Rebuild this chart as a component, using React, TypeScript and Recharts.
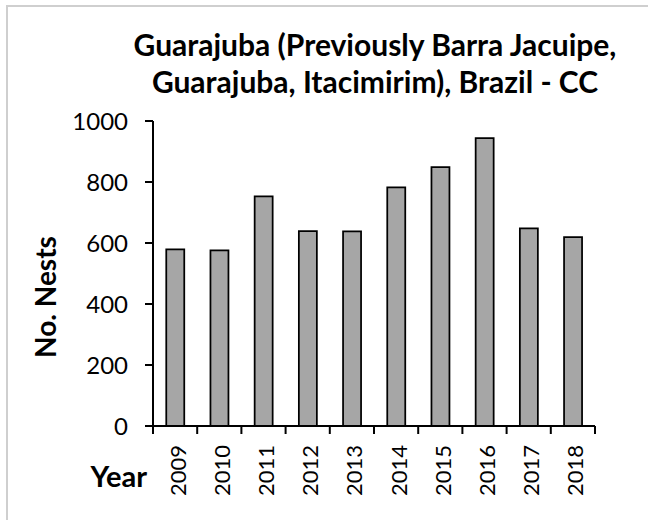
import { Bar, BarChart, XAxis, YAxis } from "recharts"

const YEARS = ["2009", "2010", "2011", "2012", "2013", "2014", "2015", "2016", "2017", "2018"]
const NESTS = [579, 576, 753, 639, 638, 782, 849, 944, 648, 619]
const Y_TICKS = [0, 200, 400, 600, 800, 1000]
const TITLE_LINES = ["Guarajuba (Previously Barra Jacuipe,", "Guarajuba, Itacimirim), Brazil - CC"]

const FONT = "Lato, 'Open Sans', sans-serif"
const CHART_W = 648
const CHART_H = 520
const MARGIN = { top: 121, right: 53, bottom: 10, left: 5 }
const Y_AXIS_W = 148
const PLOT_W = CHART_W - MARGIN.left - MARGIN.right - Y_AXIS_W

const chartData = YEARS.map((year, i) => ({ year, nests: NESTS[i] }))

// Excel-style category axis: tick marks sit between the bars, labels rotated
function YearTick(props: {
  x?: number
  y?: number
  index?: number
  width?: number
  visibleTicksCount?: number
  payload?: { value: string }
}) {
  const x = props.x ?? 0
  const y = props.y ?? 0
  const count = props.visibleTicksCount || YEARS.length
  const half = (Number(props.width) || PLOT_W) / count / 2
  const last = props.index === count - 1
  const tx = x + 2
  const ty = y + 19
  return (
    <g>
      <line x1={x - half} x2={x - half} y1={y} y2={y + 8} stroke="#000" strokeWidth={2} />
      {last && <line x1={x + half} x2={x + half} y1={y} y2={y + 8} stroke="#000" strokeWidth={2} />}
      <text
        x={tx}
        y={ty}
        transform={`rotate(-90, ${tx}, ${ty})`}
        textAnchor="end"
        dominantBaseline="central"
        fontFamily={FONT}
        fontSize={22}
        fill="#000"
      >
        {props.payload?.value}
      </text>
    </g>
  )
}

export default function App() {
  return (
    <div
      style={{
        position: "fixed",
        left: 0,
        top: 0,
        width: CHART_W,
        height: CHART_H,
        background: "#fff",
        overflow: "hidden",
      }}
    >
      <div
        style={{
          position: "absolute",
          left: 6,
          top: 5,
          width: 700,
          height: 600,
          border: "2px solid #cfcfcf",
        }}
      />
      <div style={{ position: "absolute", left: 0, top: 0 }}>
        <BarChart
          width={CHART_W}
          height={CHART_H}
          data={chartData}
          margin={MARGIN}
          barCategoryGap="30%"
        >
          <XAxis
            dataKey="year"
            interval={0}
            height={84}
            tickLine={false}
            tickSize={0}
            tickMargin={0}
            tick={<YearTick />}
            axisLine={{ stroke: "#000", strokeWidth: 2 }}
          />
          <YAxis
            width={Y_AXIS_W}
            domain={[0, 1000]}
            ticks={Y_TICKS}
            interval={0}
            tickSize={8}
            tickMargin={17}
            tick={{ fill: "#000", fontSize: 24, fontFamily: FONT }}
            tickLine={{ stroke: "#000", strokeWidth: 2 }}
            axisLine={{ stroke: "#000", strokeWidth: 2 }}
          />
          <Bar
            dataKey="nests"
            fill="#a6a6a6"
            stroke="#000"
            strokeWidth={1.75}
            isAnimationActive={false}
          />
        </BarChart>
      </div>
      <svg
        width={CHART_W}
        height={CHART_H}
        style={{ position: "absolute", left: 0, top: 0, pointerEvents: "none" }}
      >
        <g fontFamily={FONT} fontWeight="bold" fill="#000">
          <text x={375} y={56} textAnchor="middle" fontSize={30}>
            {TITLE_LINES[0]}
          </text>
          <text x={375} y={93} textAnchor="middle" fontSize={30}>
            {TITLE_LINES[1]}
          </text>
          <text
            x={45}
            y={297}
            transform="rotate(-90, 45, 297)"
            textAnchor="middle"
            dominantBaseline="central"
            fontSize={28}
          >
            No. Nests
          </text>
          <text x={147} y={487} textAnchor="end" fontSize={29}>
            Year
          </text>
        </g>
      </svg>
    </div>
  )
}
